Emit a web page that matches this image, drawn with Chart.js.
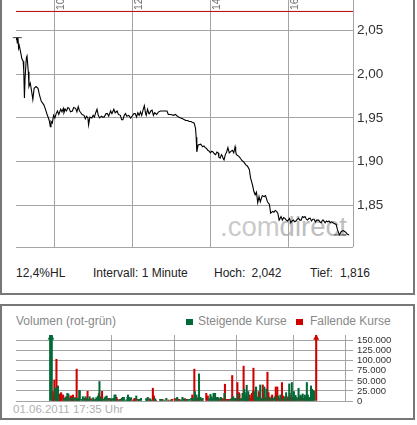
<!DOCTYPE html>
<html>
<head>
<meta charset="utf-8">
<script src="https://cdn.jsdelivr.net/npm/chart.js@4.4.0/dist/chart.umd.min.js"></script>
<style>
  html, body { margin: 0; padding: 0; background: #fff; }
  body { width: 417px; height: 425px; position: relative; overflow: hidden;
         font-family: "Liberation Sans", Arial, sans-serif; }
  .panel { position: absolute; box-sizing: border-box; border: 2px solid #777; }
  #pricePanel { left: 0; top: -2px; width: 415px; height: 297px; }
  #volPanel { left: 0; top: 304px; width: 415px; height: 116px; }
  .txt { position: absolute; white-space: nowrap; font-size: 12px; line-height: 14px; }
  .info { color: #222; top: 265.5px; }
  .volHead { color: #888; top: 314.3px; }
  .swatch { position: absolute; width: 7px; height: 6px; top: 319px; }
  #watermark { position: absolute; left: 220px; top: 212.5px; font-size: 27.5px; line-height: 28px;
               white-space: nowrap; z-index: 1; }
  #stamp { position: absolute; left: 13px; top: 402.8px; font-size: 11.5px; line-height: 13px;
           color: #b0b0b0; white-space: nowrap; }
  canvas { position: absolute; z-index: 2; }
  #priceCanvas { left: 0; top: 0; }
  #volCanvas { left: 0; top: 325px; }
</style>
</head>
<body>
<div class="panel" id="pricePanel"></div>
<div class="panel" id="volPanel"></div>

<div id="watermark"><span style="color:#cacaca">.com</span><span style="color:#bdbdbd">direct</span></div>

<div class="txt info" style="left:16px">12,4%HL</div>
<div class="txt info" style="left:93px">Intervall: 1 Minute</div>
<div class="txt info" style="left:214px">Hoch:</div>
<div class="txt info" style="left:251.5px">2,042</div>
<div class="txt info" style="left:310px">Tief:</div>
<div class="txt info" style="left:340px">1,816</div>

<div class="txt volHead" style="left:16px">Volumen (rot-grün)</div>
<div class="swatch" style="left:186px; background:#006a37"></div>
<div class="txt volHead" style="left:198px">Steigende Kurse</div>
<div class="swatch" style="left:296px; background:#d10000"></div>
<div class="txt volHead" style="left:310px">Fallende Kurse</div>

<div id="stamp">01.06.2011 17:35 Uhr</div>

<canvas id="priceCanvas" width="415" height="258"></canvas>
<canvas id="volCanvas" width="415" height="86"></canvas>

<script>
// time axis: minutes after 09:00
const xMin = 0;
const xMax = 520;
const xTickMinutes = [60, 180, 300, 420, 520];
const xTickLabels = ['10', '12', '14', '16', ''];

// price panel
const yMin = 1.8022;
const yMax = 2.0725;
const yTickValues = [1.8022, 1.85, 1.90, 1.95, 2.00, 2.05];
const previousClose = 2.072;
const dayHigh = 2.042;
const dayLow = 1.816;
const highMarkMinutes = [-5, 9];
const lowMarkMinutes = [491, 509];

const priceMinutes = [
  0, 1, 2, 3, 4, 5, 7, 9, 11, 12, 13, 14, 16, 17, 19, 20, 22, 24, 26, 28,
  31, 34, 36, 39, 43, 45, 48, 51, 53, 54, 56, 58, 60, 62, 64, 66, 69, 71, 73, 74,
  76, 78, 80, 82, 84, 87, 89, 92, 94, 96, 98, 100, 102, 105, 107, 109, 111, 112, 114, 117,
  119, 121, 123, 125, 127, 129, 132, 134, 136, 139, 141, 143, 146, 148, 151, 153, 156, 158, 161, 163,
  165, 167, 169, 171, 174, 177, 179, 182, 184, 186, 188, 190, 192, 194, 196, 198, 200, 201, 203, 205,
  206, 208, 210, 212, 214, 217, 220, 223, 226, 233, 235, 239, 243, 246, 249, 251, 254, 257, 260, 262,
  265, 267, 270, 272, 275, 277, 278, 279, 281, 285, 288, 290, 292, 294, 296, 298, 300, 302, 304, 306,
  308, 310, 312, 313, 315, 317, 318, 320, 321, 323, 325, 327, 329, 330, 332, 334, 336, 338, 339, 340,
  342, 344, 347, 349, 351, 353, 355, 357, 360, 362, 365, 367, 369, 371, 373, 375, 377, 380, 383, 385,
  388, 391, 393, 396, 398, 400, 402, 404, 406, 409, 411, 413, 415, 417, 419, 422, 424, 426, 428, 430,
  432, 434, 436, 438, 440, 442, 444, 446, 448, 450, 452, 454, 456, 458, 460, 462, 464, 467, 469, 471,
  473, 474, 476, 477, 479, 481, 483, 485, 487, 489, 491, 494, 496, 499, 502, 505, 507, 509, 511, 514
];
const priceValues = [
  2.040, 2.042, 2.036, 2.042, 2.030, 2.033, 2.026, 2.018, 2.015, 2.004, 1.973, 1.996, 2.019, 2.021, 2.003, 1.986, 1.990, 1.981, 1.971, 1.984,
  1.986, 1.984, 1.977, 1.969, 1.965, 1.961, 1.954, 1.948, 1.940, 1.946, 1.944, 1.953, 1.950, 1.955, 1.958, 1.954, 1.960, 1.957, 1.961, 1.956,
  1.960, 1.958, 1.962, 1.961, 1.957, 1.958, 1.962, 1.961, 1.957, 1.963, 1.958, 1.956, 1.954, 1.953, 1.949, 1.952, 1.950, 1.942, 1.951, 1.950,
  1.953, 1.951, 1.956, 1.960, 1.953, 1.950, 1.952, 1.951, 1.951, 1.955, 1.955, 1.952, 1.958, 1.955, 1.960, 1.956, 1.958, 1.954, 1.953, 1.948,
  1.948, 1.953, 1.955, 1.952, 1.953, 1.950, 1.952, 1.955, 1.955, 1.951, 1.956, 1.953, 1.957, 1.953, 1.959, 1.964, 1.955, 1.953, 1.960, 1.955,
  1.955, 1.958, 1.959, 1.953, 1.956, 1.954, 1.957, 1.958, 1.958, 1.958, 1.954, 1.954, 1.953, 1.954, 1.952, 1.951, 1.950, 1.949, 1.948, 1.947,
  1.947, 1.946, 1.946, 1.945, 1.944, 1.938, 1.928, 1.911, 1.919, 1.920, 1.917, 1.918, 1.916, 1.915, 1.913, 1.912, 1.910, 1.912, 1.911, 1.909,
  1.908, 1.911, 1.910, 1.905, 1.904, 1.908, 1.907, 1.903, 1.902, 1.908, 1.911, 1.916, 1.910, 1.910, 1.912, 1.913, 1.910, 1.917, 1.912, 1.908,
  1.907, 1.906, 1.903, 1.901, 1.900, 1.898, 1.896, 1.895, 1.891, 1.881, 1.873, 1.866, 1.862, 1.865, 1.853, 1.860, 1.854, 1.861, 1.860, 1.861,
  1.854, 1.851, 1.841, 1.843, 1.842, 1.844, 1.843, 1.841, 1.833, 1.837, 1.833, 1.836, 1.835, 1.833, 1.832, 1.835, 1.830, 1.832, 1.833, 1.831,
  1.832, 1.834, 1.835, 1.833, 1.833, 1.837, 1.836, 1.837, 1.834, 1.833, 1.835, 1.835, 1.832, 1.834, 1.834, 1.831, 1.833, 1.833, 1.831, 1.830,
  1.833, 1.833, 1.831, 1.830, 1.832, 1.831, 1.832, 1.830, 1.831, 1.830, 1.829, 1.828, 1.822, 1.816, 1.820, 1.821, 1.820, 1.819, 1.817, 1.816
];

// volume panel
const volMax = 164250;
const volTickValues = [0, 25000, 50000, 75000, 100000, 125000, 150000];
const offScaleMark = 157000;

const upMinutes = [
  1, 4, 11, 14, 16, 28, 30, 34, 36, 42, 46, 48, 53, 57, 58, 62, 64, 69, 71, 75,
  77, 82, 84, 86, 90, 92, 93, 96, 99, 103, 106, 108, 110, 116, 120, 123, 125, 127, 134, 139,
  141, 143, 147, 150, 151, 153, 157, 167, 172, 173, 176, 186, 189, 194, 196, 203, 213, 215, 221, 225,
  233, 244, 246, 253, 256, 258, 263, 269, 273, 276, 280, 283, 288, 291, 295, 307, 310, 312, 316, 319,
  323, 325, 330, 337, 345, 350, 354, 358, 363, 368, 372, 375, 379, 380, 383, 395, 398, 402, 406, 410,
  414, 418, 424, 426, 431, 434, 441, 445, 452, 454, 456, 462, 467, 471, 474, 476, 480, 484, 488, 492,
  496, 498, 502, 504, 506, 508, 510
];
const upVolumes = [
  260000, 240000, 32000, 32000, 37500, 6700, 8400, 19000, 17500, 6700, 9200, 6700, 6700, 26000, 26000, 4200, 10800, 10800, 6700, 4200,
  10800, 2500, 8400, 2500, 8400, 4200, 12600, 48500, 5800, 4200, 8400, 10800, 12600, 6700, 5800, 6700, 15000, 15000, 2500, 6700,
  9200, 9200, 2500, 9200, 15000, 9200, 8400, 12600, 2500, 4200, 6700, 5800, 9200, 5000, 2500, 5800, 4200, 4200, 2500, 6700,
  2500, 6700, 9200, 2500, 9200, 5800, 4200, 4200, 6700, 6700, 23500, 15000, 67500, 9200, 6700, 5800, 16700, 10800, 19200, 19200,
  9200, 8400, 9200, 19200, 2500, 5800, 10800, 6700, 17500, 5800, 19200, 29250, 20800, 39250, 23500, 23500, 35000, 9200, 40000, 5800,
  35000, 29250, 9200, 5800, 6700, 10800, 12600, 15000, 6700, 10800, 20800, 42500, 46000, 23500, 14000, 9200, 31750, 15000, 17500, 15000,
  46000, 15000, 9200, 37500, 29250, 26000, 24000
];
const downMinutes = [
  6, 7, 9, 13, 17, 19, 20, 22, 23, 26, 32, 38, 40, 43, 45, 50, 52, 55, 67, 73,
  80, 88, 95, 98, 101, 113, 118, 129, 131, 136, 155, 161, 163, 165, 170, 188, 192, 199, 201, 205,
  217, 229, 236, 241, 248, 250, 261, 266, 275, 279, 282, 285, 287, 293, 302, 305, 314, 321, 327, 332,
  334, 338, 341, 344, 348, 352, 356, 359, 362, 365, 366, 370, 374, 377, 382, 385, 387, 389, 390, 392,
  393, 397, 399, 403, 405, 408, 411, 413, 417, 420, 422, 428, 429, 436, 437, 439, 443, 446, 448, 450,
  458, 460, 463, 465, 469, 472, 478, 482, 486, 490, 494, 500, 514
];
const downVolumes = [
  23500, 10800, 52500, 104000, 10800, 15000, 17500, 20800, 15000, 15000, 10800, 6700, 12600, 12600, 15000, 8400, 79250, 6700, 6700, 24000,
  5800, 4200, 19200, 10800, 24000, 6700, 4200, 9200, 4200, 4200, 6700, 2500, 5800, 6700, 4200, 4200, 5800, 31750, 12600, 2500,
  4200, 2500, 4200, 5800, 4200, 4200, 5800, 4200, 15000, 79250, 10800, 6700, 9200, 4200, 19200, 12600, 6700, 6700, 5800, 5800,
  5800, 41750, 4200, 4200, 4200, 63400, 5800, 5800, 46000, 20800, 17500, 5800, 86750, 12600, 10800, 15000, 6700, 15000, 19200, 23500,
  81750, 19200, 10800, 23500, 19200, 6700, 40000, 19200, 8400, 71750, 20800, 10800, 15000, 35000, 15000, 35000, 6700, 10800, 46000, 12600,
  6700, 10800, 19200, 10800, 9200, 5800, 5800, 10800, 10800, 6700, 10800, 5800, 320000
];
const offScaleUpMinutes = [1, 4];
const offScaleDownMinutes = [514];

const fontFamily = '"Liberation Sans", Arial, sans-serif';
const gridColor = '#a4a4a4';
const upColor = '#006a37';
const downColor = '#d10000';

function toPoints(xs, ys) {
  return xs.map((x, i) => ({ x: x, y: ys[i] }));
}

function germanPrice(v) {
  return v.toFixed(2).replace('.', ',');
}

function germanVolume(v) {
  return v === 0 ? '0' : (v / 1000) + '.000';
}

// Intraday price chart
new Chart(document.getElementById('priceCanvas'), {
  type: 'line',
  data: {
    datasets: [
      {
        label: 'Kurs',
        data: toPoints(priceMinutes, priceValues),
        borderColor: '#000',
        borderWidth: 1.1,
        pointRadius: 0,
        tension: 0,
      },
      {
        label: 'Vortag',
        data: toPoints([xMin, xMax], [previousClose, previousClose]),
        borderColor: '#b80000',
        borderWidth: 1,
        pointRadius: 0,
        clip: false,
      },
      {
        label: 'Hoch',
        data: toPoints(highMarkMinutes, [dayHigh, dayHigh]),
        borderColor: '#444',
        borderWidth: 1,
        pointRadius: 0,
        clip: false,
      },
      {
        label: 'Tief',
        data: toPoints(lowMarkMinutes, [dayLow, dayLow]),
        borderColor: '#444',
        borderWidth: 1,
        pointRadius: 0,
        clip: false,
      },
    ],
  },
  options: {
    responsive: false,
    animation: false,
    layout: { padding: { left: 16, right: 0, top: 0, bottom: 11 } },
    plugins: { legend: { display: false }, tooltip: { enabled: false } },
    scales: {
      x: {
        type: 'linear',
        position: 'top',
        min: xMin,
        max: xMax,
        afterBuildTicks: (scale) => { scale.ticks = xTickMinutes.map((v) => ({ value: v })); },
        afterFit: (scale) => { scale.height = 11; },
        grid: { color: gridColor, drawTicks: true, tickLength: 11 },
        border: { display: false },
        ticks: {
          autoSkip: false,
          minRotation: 90,
          maxRotation: 90,
          padding: -10,
          labelOffset: 17,
          color: '#6e6e6e',
          font: { size: 10.5, family: fontFamily, lineHeight: 1 },
          callback: (value, index) => xTickLabels[index],
        },
      },
      y: {
        position: 'right',
        min: yMin,
        max: yMax,
        afterBuildTicks: (scale) => { scale.ticks = yTickValues.map((v) => ({ value: v })); },
        afterFit: (scale) => { scale.width = 62; },
        grid: { color: gridColor, drawTicks: false },
        border: { display: false },
        ticks: {
          autoSkip: false,
          padding: 4,
          color: '#333',
          font: { size: 13.5, family: fontFamily, lineHeight: 1 },
          callback: (value, index) => (index === 0 ? '' : germanPrice(value)),
        },
      },
    },
  },
});

// Volume chart, green = rising, red = falling
new Chart(document.getElementById('volCanvas'), {
  type: 'bar',
  data: {
    datasets: [
      {
        label: 'Steigende Kurse',
        data: toPoints(upMinutes, upVolumes),
        backgroundColor: upColor,
        barThickness: 1.4,
        grouped: false,
      },
      {
        label: 'Fallende Kurse',
        data: toPoints(downMinutes, downVolumes),
        backgroundColor: downColor,
        barThickness: 1.4,
        grouped: false,
      },
      {
        type: 'scatter',
        label: 'über Skala (steigend)',
        data: offScaleUpMinutes.map((m) => ({ x: m, y: offScaleMark })),
        pointStyle: 'triangle',
        pointRadius: 3,
        backgroundColor: upColor,
        borderWidth: 0,
        clip: false,
      },
      {
        type: 'scatter',
        label: 'über Skala (fallend)',
        data: offScaleDownMinutes.map((m) => ({ x: m, y: offScaleMark })),
        pointStyle: 'triangle',
        pointRadius: 3.5,
        backgroundColor: downColor,
        borderWidth: 0,
        clip: false,
      },
    ],
  },
  options: {
    responsive: false,
    animation: false,
    layout: { padding: { left: 16, right: 0, top: 10, bottom: 10 } },
    plugins: { legend: { display: false }, tooltip: { enabled: false } },
    scales: {
      x: {
        type: 'linear',
        min: xMin,
        max: xMax,
        afterBuildTicks: (scale) => { scale.ticks = xTickMinutes.map((v) => ({ value: v })); },
        afterFit: (scale) => { scale.height = 0; },
        grid: { color: gridColor, drawTicks: false },
        border: { display: false },
        ticks: { display: false },
      },
      y: {
        position: 'right',
        min: 0,
        max: volMax,
        afterBuildTicks: (scale) => { scale.ticks = volTickValues.map((v) => ({ value: v })); },
        afterFit: (scale) => { scale.width = 62; },
        grid: { color: gridColor, drawTicks: false },
        border: { display: false },
        ticks: {
          autoSkip: false,
          padding: 4,
          color: '#333',
          font: { size: 9.5, family: fontFamily, lineHeight: 1 },
          callback: (value) => germanVolume(value),
        },
      },
    },
  },
});
</script>
</body>
</html>
